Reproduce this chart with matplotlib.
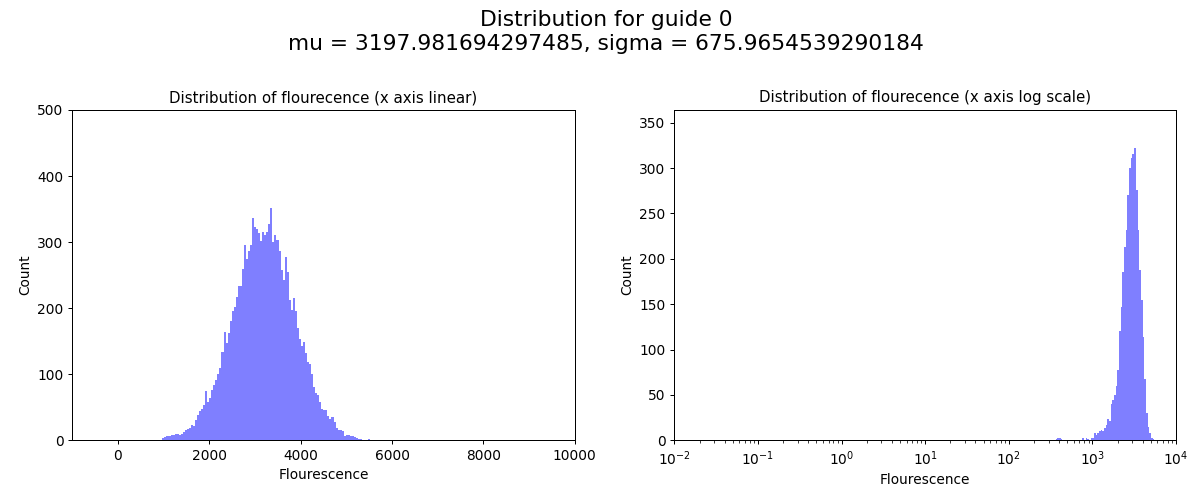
import numpy as np
import matplotlib
matplotlib.use('Agg')
import matplotlib.pyplot as plt

# left panel: linear bins (start, width) and counts
lin_start = 928.0
lin_width = 44.6
lin_counts = [1, 3, 5, 7, 7, 8, 8, 9, 10, 8,
              9, 12, 16, 17, 19, 23, 21, 30, 38, 45,
              48, 53, 74, 58, 64, 76, 84, 92, 100, 109,
              134, 164, 147, 162, 180, 195, 202, 217, 233, 233,
              260, 296, 275, 286, 296, 336, 323, 320, 314, 301,
              316, 311, 316, 328, 351, 300, 311, 303, 286, 258,
              243, 278, 255, 212, 197, 215, 195, 170, 154, 142,
              149, 132, 119, 115, 100, 80, 72, 69, 58, 48,
              46, 46, 36, 32, 35, 28, 18, 16, 15, 14,
              7, 8, 8, 7, 6, 5, 3, 2, 2, 1,
              1, 0, 2]

# right panel: log10 bins (start, width in decades) and counts
log_start = 2.54
log_width = 0.02
log_counts = [0, 1, 2, 2, 1, 0, 0, 0, 0, 0,
              0, 0, 0, 0, 0, 0, 0, 2, 0, 2,
              1, 0, 2,
              2, 8, 6, 8, 10, 11, 10, 14, 17, 24,
              21, 40, 44, 50, 60, 78, 120, 147, 185, 213,
              232, 270, 300, 311, 316, 322, 276, 232, 188, 155,
              114, 67, 30, 15, 8, 3, 1, 0]

mu = 3197.981694297485
sigma = 675.9654539290184

lin_edges = lin_start + lin_width * np.arange(len(lin_counts) + 1)
lin_centers = (lin_edges[:-1] + lin_edges[1:]) / 2
log_edges = 10 ** (log_start + log_width * np.arange(len(log_counts) + 1))
log_centers = np.sqrt(log_edges[:-1] * log_edges[1:])

plt.rcParams['xtick.labelsize'] = 11
plt.rcParams['ytick.labelsize'] = 11
plt.rcParams['axes.labelsize'] = 11
plt.rcParams['axes.titlesize'] = 12

fig = plt.figure(figsize=(1187 / 90, 491 / 90), dpi=90)
ax1 = fig.add_axes([0.0609, 0.1033, 0.4233, 0.6727])
ax2 = fig.add_axes([0.5681, 0.1033, 0.4226, 0.6727])

ax1.hist(lin_centers, bins=lin_edges, weights=lin_counts, color='blue', alpha=0.5)
ax1.set_xlim(-1000, 10000)
ax1.set_ylim(0, 500)
ax1.set_title('Distribution of flourecence (x axis linear)')
ax1.set_xlabel('Flourescence')
ax1.set_ylabel('Count')

ax2.hist(log_centers, bins=log_edges, weights=log_counts, color='blue', alpha=0.5)
ax2.set_xscale('log')
ax2.set_xlim(1e-2, 1e4)
ax2.set_ylim(0, 364)
ax2.set_title('Distribution of flourecence (x axis log scale)')
ax2.set_xlabel('Flourescence')
ax2.set_ylabel('Count')

fig.suptitle(f'Distribution for guide 0\nmu = {mu}, sigma = {sigma}',
             fontsize=17.4, x=0.5105, y=0.979, va='top')

fig.savefig('out.png', dpi=90)
